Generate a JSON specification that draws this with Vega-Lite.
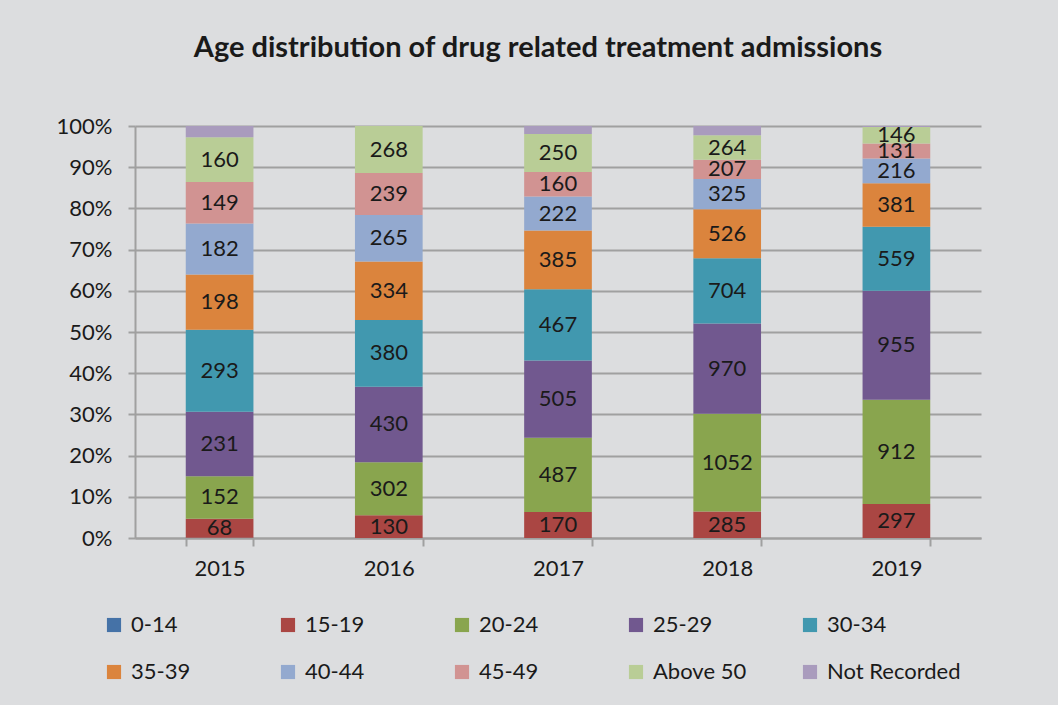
{
  "$schema": "https://vega.github.io/schema/vega-lite/v6.json",
  "width": 846,
  "height": 412,
  "autosize": {"type": "none"},
  "padding": {"left": 135, "top": 126, "right": 77, "bottom": 167},
  "background": "#DCDDDF",
  "title": {
    "text": "Age distribution of drug related treatment admissions",
    "font": "Lato",
    "fontSize": 29,
    "fontWeight": "bold",
    "color": "#1a1a1a",
    "anchor": "middle",
    "dx": -20,
    "offset": 52
  },
  "data": {
    "values": [
      {"year": "2015", "age": "0-14", "count": 1},
      {"year": "2015", "age": "15-19", "count": 68},
      {"year": "2015", "age": "20-24", "count": 152},
      {"year": "2015", "age": "25-29", "count": 231},
      {"year": "2015", "age": "30-34", "count": 293},
      {"year": "2015", "age": "35-39", "count": 198},
      {"year": "2015", "age": "40-44", "count": 182},
      {"year": "2015", "age": "45-49", "count": 149},
      {"year": "2015", "age": "Above 50", "count": 160},
      {"year": "2015", "age": "Not Recorded", "count": 40},
      {"year": "2016", "age": "0-14", "count": 0},
      {"year": "2016", "age": "15-19", "count": 130},
      {"year": "2016", "age": "20-24", "count": 302},
      {"year": "2016", "age": "25-29", "count": 430},
      {"year": "2016", "age": "30-34", "count": 380},
      {"year": "2016", "age": "35-39", "count": 334},
      {"year": "2016", "age": "40-44", "count": 265},
      {"year": "2016", "age": "45-49", "count": 239},
      {"year": "2016", "age": "Above 50", "count": 268},
      {"year": "2016", "age": "Not Recorded", "count": 0},
      {"year": "2017", "age": "0-14", "count": 0},
      {"year": "2017", "age": "15-19", "count": 170},
      {"year": "2017", "age": "20-24", "count": 487},
      {"year": "2017", "age": "25-29", "count": 505},
      {"year": "2017", "age": "30-34", "count": 467},
      {"year": "2017", "age": "35-39", "count": 385},
      {"year": "2017", "age": "40-44", "count": 222},
      {"year": "2017", "age": "45-49", "count": 160},
      {"year": "2017", "age": "Above 50", "count": 250},
      {"year": "2017", "age": "Not Recorded", "count": 52},
      {"year": "2018", "age": "0-14", "count": 0},
      {"year": "2018", "age": "15-19", "count": 285},
      {"year": "2018", "age": "20-24", "count": 1052},
      {"year": "2018", "age": "25-29", "count": 970},
      {"year": "2018", "age": "30-34", "count": 704},
      {"year": "2018", "age": "35-39", "count": 526},
      {"year": "2018", "age": "40-44", "count": 325},
      {"year": "2018", "age": "45-49", "count": 207},
      {"year": "2018", "age": "Above 50", "count": 264},
      {"year": "2018", "age": "Not Recorded", "count": 100},
      {"year": "2019", "age": "0-14", "count": 0},
      {"year": "2019", "age": "15-19", "count": 297},
      {"year": "2019", "age": "20-24", "count": 912},
      {"year": "2019", "age": "25-29", "count": 955},
      {"year": "2019", "age": "30-34", "count": 559},
      {"year": "2019", "age": "35-39", "count": 381},
      {"year": "2019", "age": "40-44", "count": 216},
      {"year": "2019", "age": "45-49", "count": 131},
      {"year": "2019", "age": "Above 50", "count": 146},
      {"year": "2019", "age": "Not Recorded", "count": 8}
    ]
  },
  "encoding": {
    "x": {
      "field": "year",
      "type": "nominal",
      "scale": {"paddingInner": 0.6, "paddingOuter": 0.3},
      "axis": {
        "title": null,
        "labelAngle": 0,
        "labelFont": "Lato",
        "labelFontSize": 22,
        "labelColor": "#1a1a1a",
        "labelPadding": 12,
        "domainColor": "#A0A0A0",
        "domainWidth": 2,
        "tickColor": "#A0A0A0",
        "tickWidth": 2,
        "tickSize": 8,
        "tickBand": "extent",
        "grid": false
      }
    }
  },
  "layer": [
    {
      "mark": {"type": "bar"},
      "encoding": {
        "y": {
          "field": "count",
          "type": "quantitative",
          "stack": "normalize",
          "axis": {
            "title": null,
            "format": ".0%",
            "values": [0, 0.1, 0.2, 0.3, 0.4, 0.5, 0.6, 0.7, 0.8, 0.9, 1],
            "labelFont": "Lato",
            "labelFontSize": 22,
            "labelColor": "#1a1a1a",
            "labelPadding": 16,
            "domainColor": "#A0A0A0",
            "domainWidth": 2,
            "tickColor": "#A0A0A0",
            "tickWidth": 2,
            "tickSize": 7,
            "gridColor": "#A0A0A0",
            "gridWidth": 2
          }
        },
        "color": {
          "field": "age",
          "type": "nominal",
          "scale": {
            "domain": ["0-14", "15-19", "20-24", "25-29", "30-34", "35-39", "40-44", "45-49", "Above 50", "Not Recorded"],
            "range": ["#4572A7", "#AA4643", "#89A54E", "#71588F", "#4198AF", "#DB843D", "#93A9CF", "#D19392", "#B9CD96", "#A99BBD"]
          },
          "legend": {
            "title": null,
            "orient": "none",
            "legendX": -32,
            "legendY": 488,
            "direction": "horizontal",
            "columns": 5,
            "gridAlign": "all",
            "columnPadding": 12,
            "rowPadding": 25,
            "padding": 0,
            "symbolType": "square",
            "symbolSize": 200,
            "symbolStrokeWidth": 0,
            "symbolOpacity": 1,
            "labelFont": "Lato",
            "labelFontSize": 22,
            "labelColor": "#1a1a1a",
            "labelOffset": 6,
            "labelLimit": 300
          }
        },
        "order": {"field": "age", "sort": "ascending"}
      }
    },
    {
      "mark": {"type": "text", "font": "Lato", "fontSize": 22, "color": "#1a1a1a", "baseline": "middle"},
      "encoding": {
        "y": {"field": "count", "type": "quantitative", "stack": "normalize", "bandPosition": 0.5},
        "detail": {"field": "age", "type": "nominal"},
        "order": {"field": "age", "sort": "ascending"},
        "text": {
          "condition": {"test": "datum.age === '0-14' || datum.age === 'Not Recorded'", "value": ""},
          "field": "count",
          "type": "quantitative"
        }
      }
    }
  ],
  "config": {
    "view": {"stroke": null},
    "axis": {"labelFontWeight": "normal"}
  }
}
